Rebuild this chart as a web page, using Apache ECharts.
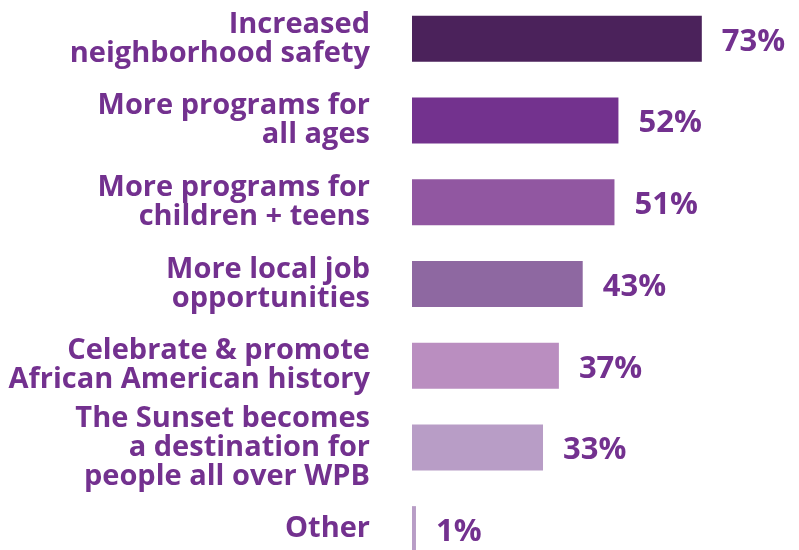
<!DOCTYPE html>
<html>
<head>
<meta charset="utf-8">
<script src="https://cdn.jsdelivr.net/npm/echarts@6/dist/echarts.min.js"></script>
<style>
  html, body { margin: 0; padding: 0; background: #fff; }
  #chart { width: 799px; height: 550px; }
</style>
</head>
<body>
<div id="chart"></div>
<script>
// 数据
const categories = [
  'Increased\nneighborhood safety',
  'More programs for\nall ages',
  'More programs for\nchildren + teens',
  'More local job\nopportunities',
  'Celebrate & promote\nAfrican American history',
  'The Sunset becomes\na destination for\npeople all over WPB',
  'Other'
];
const values = [73, 52, 51, 43, 37, 33, 1];
const barColors = ['#4b225b', '#73328e', '#9157a1', '#8e68a1', '#ba8ec0', '#b89dc6', '#b89dc6'];

const purple = '#73318f';
const fontFamily = '"Open Sans", sans-serif';

const chart = echarts.init(document.getElementById('chart'));
chart.setOption({
  animation: false,
  grid: {
    left: 412,
    top: -2,
    width: 397, // 100% 对应宽度
    height: 572,
    outerBoundsMode: 'none'
  },
  xAxis: {
    type: 'value',
    min: 0,
    max: 100,
    show: false
  },
  yAxis: {
    type: 'category',
    inverse: true,
    data: categories,
    axisLine: { show: false },
    axisTick: { show: false },
    axisLabel: {
      margin: 42,
      color: purple,
      fontFamily: fontFamily,
      fontWeight: 'bold',
      fontSize: 29,
      lineHeight: 29,
      align: 'right',
      padding: [8, 0, 0, 0] // 文字略向下
    }
  },
  series: [
    {
      type: 'bar',
      barWidth: 46,
      data: values.map((v, i) => ({ value: v, itemStyle: { color: barColors[i] } })),
      label: {
        show: true,
        position: 'right',
        distance: 20,
        offset: [0, 3],
        formatter: '{c}%',
        color: purple,
        fontFamily: fontFamily,
        fontWeight: 'bold',
        fontSize: 31
      }
    }
  ]
});
</script>
</body>
</html>
